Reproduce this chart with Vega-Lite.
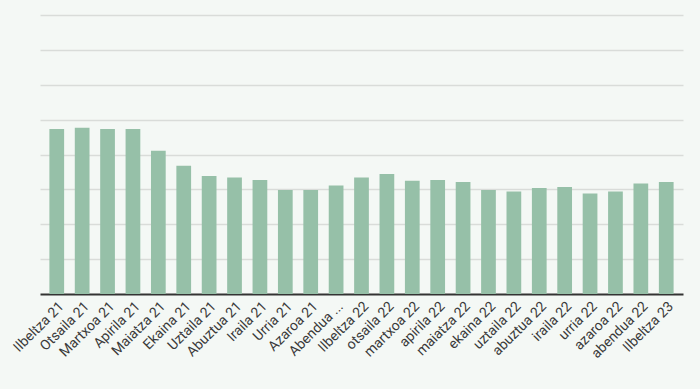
{
  "$schema": "https://vega.github.io/schema/vega-lite/v6.json",
  "width": 643,
  "height": 279,
  "autosize": {"type": "none"},
  "padding": {"left": 40, "top": 15, "right": 17, "bottom": 95},
  "background": "#f4f8f5",
  "config": {"view": {"stroke": null}, "font": "Roboto"},
  "data": {"values": [
    {"m": "Ilbeltza 21", "v": 4.73},
    {"m": "Otsaila 21", "v": 4.77},
    {"m": "Martxoa 21", "v": 4.73},
    {"m": "Apirila 21", "v": 4.73},
    {"m": "Maiatza 21", "v": 4.11},
    {"m": "Ekaina 21", "v": 3.68},
    {"m": "Uztaila 21", "v": 3.38},
    {"m": "Abuztua 21", "v": 3.34},
    {"m": "Iraila 21", "v": 3.27},
    {"m": "Urria 21", "v": 2.98},
    {"m": "Azaroa 21", "v": 2.98},
    {"m": "Abendua 21", "v": 3.11},
    {"m": "Ilbeltza 22", "v": 3.34},
    {"m": "otsaila 22", "v": 3.44},
    {"m": "martxoa 22", "v": 3.25},
    {"m": "apirila 22", "v": 3.27},
    {"m": "maiatza 22", "v": 3.21},
    {"m": "ekaina 22", "v": 2.98},
    {"m": "uztaila 22", "v": 2.94},
    {"m": "abuztua 22", "v": 3.04},
    {"m": "iraila 22", "v": 3.07},
    {"m": "urria 22", "v": 2.88},
    {"m": "azaroa 22", "v": 2.94},
    {"m": "abendua 22", "v": 3.17},
    {"m": "Ilbeltza 23", "v": 3.21}
  ]},
  "mark": {"type": "bar", "color": "#96c0a8"},
  "encoding": {
    "x": {
      "field": "m", "type": "nominal", "sort": null,
      "scale": {"paddingInner": 0.42, "paddingOuter": 0.37},
      "axis": {
        "title": null, "labelAngle": -45, "labelFontSize": 14, "labelColor": "#3a3a3a",
        "labelExpr": "datum.value == 'Abendua 21' ? 'Abendua ...' : datum.value",
        "ticks": false, "domainColor": "#333333", "domainWidth": 2, "labelPadding": 5
      }
    },
    "y": {
      "field": "v", "type": "quantitative",
      "scale": {"domain": [0, 8]},
      "axis": {
        "title": null, "labels": false, "ticks": false, "domain": false,
        "values": [1, 2, 3, 4, 5, 6, 7, 8], "gridColor": "#d9dcd9", "gridWidth": 1.5
      }
    }
  }
}
